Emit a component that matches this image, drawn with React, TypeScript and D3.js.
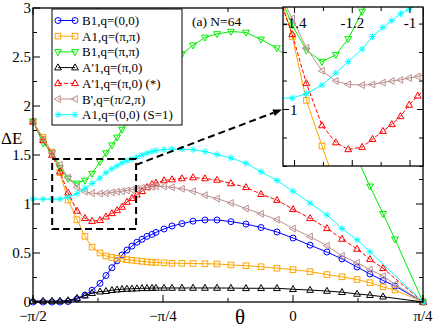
import { useEffect, useRef } from "react";
import * as d3 from "d3";

// theta grid shared by all the curves (radians)
const thetaGrid = [
  -1.5708, -1.51, -1.456, -1.408, -1.359, -1.305, -1.257, -1.214, -1.166, -1.13,
  -1.094, -1.063, -1.033, -1.003, -0.973, -0.943, -0.912, -0.882, -0.852, -0.828,
  -0.779, -0.731, -0.671, -0.604, -0.532, -0.459, -0.375, -0.284, -0.193, -0.097,
  0, 0.103, 0.205, 0.296, 0.387, 0.465, 0.544, 0.616, 0.7854,
];

const b1q00 = [
  0, 0, 0, 0, 0.005, 0.03, 0.07, 0.12, 0.19, 0.27,
  0.35, 0.42, 0.48, 0.53, 0.57, 0.61, 0.64, 0.67, 0.69, 0.71,
  0.745, 0.775, 0.8, 0.825, 0.837, 0.837, 0.82, 0.795, 0.76, 0.715,
  0.653, 0.58, 0.51, 0.44, 0.357, 0.286, 0.22, 0.163, 0,
];
const a1qpp = [
  1.84, 1.68, 1.53, 1.32, 1.04, 0.84, 0.67, 0.56, 0.5, 0.47,
  0.455, 0.445, 0.44, 0.432, 0.426, 0.42, 0.415, 0.41, 0.405, 0.403,
  0.4, 0.395, 0.395, 0.393, 0.39, 0.388, 0.378, 0.37, 0.36, 0.345,
  0.33, 0.31, 0.28, 0.257, 0.23, 0.197, 0.155, 0.122, 0,
];
const b1qpp = [
  1.84, 1.62, 1.52, 1.37, 1.26, 1.21, 1.24, 1.31, 1.43, 1.52,
  1.6, 1.68, 1.76, 1.84, 1.92, 1.99, 2.06, 2.13, 2.2, 2.25,
  2.34, 2.43, 2.53, 2.62, 2.7, 2.735, 2.76, 2.75, 2.68, 2.59,
  2.45, 2.25, 2.0, 1.75, 1.47, 1.18, 0.9, 0.64, 0,
];
const a1pq0 = [
  0.01, 0.01, 0.01, 0.01, 0.015, 0.04, 0.065, 0.09, 0.105, 0.11,
  0.12, 0.125, 0.13, 0.133, 0.135, 0.137, 0.14, 0.14, 0.142, 0.143,
  0.143, 0.143, 0.143, 0.143, 0.143, 0.143, 0.142, 0.14, 0.14, 0.14,
  0.13, 0.122, 0.112, 0.1, 0.082, 0.07, 0.054, null, 0,
];
const a1pq0star = [
  1.84, 1.65, 1.5, 1.33, 1.115, 0.93, 0.855, 0.825, 0.835, 0.87,
  0.905, 0.935, 0.97, 1.02, 1.06, 1.095, 1.13, 1.17, 1.2, 1.215,
  1.24, 1.25, 1.26, 1.27, 1.26, 1.245, 1.21, 1.17, 1.1, 1.04,
  0.946, 0.854, 0.752, 0.643, 0.541, 0.436, 0.344, null, 0,
];
const bpq2p = [
  1.84, 1.66, 1.52, 1.4, 1.27, 1.17, 1.125, 1.11, 1.107, 1.11,
  1.118, 1.125, 1.13, 1.138, 1.145, 1.155, 1.165, 1.17, 1.175, 1.18,
  1.18, 1.17, 1.155, 1.13, 1.09, 1.055, 1.01, 0.955, 0.9, 0.84,
  0.75, 0.667, 0.575, 0.47, 0.4, 0.33, 0.265, 0.18, 0,
];
const a1q00s1 = [
  1.05, 1.05, 1.05, 1.05, 1.07, 1.107, 1.16, 1.21, 1.265, 1.32,
  1.36, 1.39, 1.42, 1.44, 1.46, 1.48, 1.5, 1.52, 1.535, 1.545,
  1.555, 1.56, 1.56, 1.555, 1.535, 1.505, 1.47, 1.415, 1.33, 1.24,
  1.13, 1.01, 0.888, 0.75, 0.635, 0.513, null, null, 0,
];

const legendLabels = [
  "B1,q=(0,0)",
  "A1,q=(π,π)",
  "B1,q=(π,π)",
  "A'1,q=(π,0)",
  "A'1,q=(π,0) (*)",
  "B',q=(π/2,π)",
  "A1,q=(0,0) (S=1)",
];
const xTickLabels = ["−π/2", "−π/4", "0", "π/4"];
const yTickLabels = ["0", "0.5", "1", "1.5", "2", "2.5", "3"];
const insetXTicks = [-1.4, -1.2, -1];
const insetXTickLabels = ["-1.4", "-1.2", "-1"];

const series = [
  { label: legendLabels[0], values: b1q00, color: "#0000ff", sym: "circle", dash: null },
  { label: legendLabels[1], values: a1qpp, color: "#ffa500", sym: "square", dash: null },
  { label: legendLabels[2], values: b1qpp, color: "#00ee00", sym: "down", dash: null },
  { label: legendLabels[3], values: a1pq0, color: "#000000", sym: "up", dash: null },
  { label: legendLabels[4], values: a1pq0star, color: "#ff0000", sym: "up", dash: "4,2" },
  { label: legendLabels[5], values: bpq2p, color: "#bc8f8f", sym: "left", dash: null },
  { label: legendLabels[6], values: a1q00s1, color: "#00ffff", sym: "star", dash: null },
];

const FONT = "Liberation Serif, Times New Roman, DejaVu Serif, serif";

function addMarker(g, sym, x, y, color) {
  if (sym === "circle") {
    g.append("circle").attr("cx", x).attr("cy", y).attr("r", 3)
      .attr("fill", "none").attr("stroke", color);
  } else if (sym === "square") {
    g.append("rect").attr("x", x - 2.8).attr("y", y - 2.8).attr("width", 5.6).attr("height", 5.6)
      .attr("fill", "none").attr("stroke", color);
  } else if (sym === "star") {
    let d = "";
    for (let k = 0; k < 4; k++) {
      const a = (k * Math.PI) / 4;
      const dx = 3.3 * Math.cos(a), dy = 3.3 * Math.sin(a);
      d += `M${x - dx},${y - dy}L${x + dx},${y + dy}`;
    }
    g.append("path").attr("d", d).attr("stroke", color).attr("fill", "none");
  } else {
    let pts;
    if (sym === "up") pts = [[x, y - 3.7], [x - 3.4, y + 2.3], [x + 3.4, y + 2.3]];
    else if (sym === "down") pts = [[x, y + 3.7], [x - 3.4, y - 2.3], [x + 3.4, y - 2.3]];
    else pts = [[x - 3.7, y], [x + 2.3, y - 3.4], [x + 2.3, y + 3.4]];
    g.append("polygon").attr("points", pts.map((p) => p.join(",")).join(" "))
      .attr("fill", "none").attr("stroke", color);
  }
}

function drawSeries(g, xs, ys) {
  series.forEach((s) => {
    const pts = thetaGrid
      .map((t, i) => [t, s.values[i]])
      .filter((p) => p[1] !== null);
    const line = d3.line().x((d) => xs(d[0])).y((d) => ys(d[1]));
    g.append("path").attr("d", line(pts)).attr("fill", "none")
      .attr("stroke", s.color).attr("stroke-width", 1)
      .attr("stroke-dasharray", s.dash);
    const mg = g.append("g").attr("stroke-width", 1);
    pts.forEach((p) => addMarker(mg, s.sym, xs(p[0]), ys(p[1]), s.color));
  });
}

export default function App() {
  const ref = useRef(null);

  useEffect(() => {
    const svg = d3.select(ref.current);
    svg.selectAll("*").remove();

    const x = d3.scaleLinear().domain([-Math.PI / 2, Math.PI / 4]).range([33, 423]);
    const y = d3.scaleLinear().domain([0, 3]).range([302, 8]);

    const defs = svg.append("defs");

    // main curves
    drawSeries(svg.append("g"), x, y);

    // main frame and ticks
    const frame = svg.append("g").attr("stroke", "#000");
    frame.append("rect").attr("x", 33).attr("y", 8).attr("width", 390).attr("height", 294)
      .attr("fill", "none").attr("stroke-width", 1.3);
    const xMajor = [-Math.PI / 2, -Math.PI / 4, 0, Math.PI / 4];
    const xMinor = [-3 * Math.PI / 8, -Math.PI / 8, Math.PI / 8];
    xMajor.forEach((t) => {
      frame.append("line").attr("x1", x(t)).attr("x2", x(t)).attr("y1", 302).attr("y2", 295);
      frame.append("line").attr("x1", x(t)).attr("x2", x(t)).attr("y1", 8).attr("y2", 15);
    });
    xMinor.forEach((t) => {
      frame.append("line").attr("x1", x(t)).attr("x2", x(t)).attr("y1", 302).attr("y2", 298);
      frame.append("line").attr("x1", x(t)).attr("x2", x(t)).attr("y1", 8).attr("y2", 12);
    });
    d3.range(0, 3.01, 0.25).forEach((v, i) => {
      const len = i % 2 === 0 ? 7 : 4;
      frame.append("line").attr("x1", 33).attr("x2", 33 + len).attr("y1", y(v)).attr("y2", y(v));
      frame.append("line").attr("x1", 423).attr("x2", 423 - len).attr("y1", y(v)).attr("y2", y(v));
    });

    const labels = svg.append("g").style("font-family", FONT).attr("fill", "#000");
    xMajor.forEach((t, i) => {
      labels.append("text").attr("x", x(t)).attr("y", 321).attr("text-anchor", "middle")
        .attr("font-size", 15).text(xTickLabels[i]);
    });
    yTickLabels.forEach((lab, i) => {
      labels.append("text").attr("x", 31).attr("y", y(i * 0.5) + 5).attr("text-anchor", "end")
        .attr("font-size", 15).text(lab);
    });
    labels.append("text").attr("x", 1).attr("y", 144).attr("font-size", 17).text("ΔE");
    labels.append("text").attr("x", 240).attr("y", 324).attr("text-anchor", "middle")
      .attr("font-size", 21).text("θ");
    labels.append("text").attr("x", 192).attr("y", 26).attr("font-size", 13.5).text("(a) N=64");

    // legend
    const lg = svg.append("g");
    lg.append("rect").attr("x", 52).attr("y", 9).attr("width", 130).attr("height", 116)
      .attr("fill", "#fff").attr("stroke", "#000").attr("stroke-width", 1);
    series.forEach((s, i) => {
      const ly = 20.5 + i * 15.7;
      lg.append("line").attr("x1", 58).attr("x2", 75).attr("y1", ly).attr("y2", ly)
        .attr("stroke", s.color).attr("stroke-dasharray", s.dash);
      addMarker(lg, s.sym, 58, ly, s.color);
      addMarker(lg, s.sym, 75, ly, s.color);
      lg.append("text").attr("x", 82).attr("y", ly + 4.5).style("font-family", FONT)
        .attr("font-size", 13).text(s.label);
    });

    // zoom box in the main panel
    const bx0 = x(-1.455), bx1 = x(-0.948), by0 = y(1.46), by1 = y(0.745);
    svg.append("rect").attr("x", bx0).attr("y", by0).attr("width", bx1 - bx0).attr("height", by1 - by0)
      .attr("fill", "none").attr("stroke", "#000").attr("stroke-width", 2).attr("stroke-dasharray", "7,4");

    // inset
    const xi = d3.scaleLinear().domain([-1.44, -0.955]).range([283, 423]);
    const yi = d3.scaleLinear().domain([0.752, 1.45]).range([166, 7]);
    defs.append("clipPath").attr("id", "insetclip").append("rect")
      .attr("x", 283).attr("y", 7).attr("width", 140).attr("height", 159);
    svg.append("rect").attr("x", 283).attr("y", 7).attr("width", 140).attr("height", 159).attr("fill", "#fff");
    drawSeries(svg.append("g").attr("clip-path", "url(#insetclip)"), xi, yi);
    const ifr = svg.append("g").attr("stroke", "#000");
    ifr.append("rect").attr("x", 283).attr("y", 7).attr("width", 140).attr("height", 159)
      .attr("fill", "none").attr("stroke-width", 1.3);
    d3.range(-1.4, -0.95, 0.1).forEach((t) => {
      const major = Math.abs(Math.round(t * 10) % 2) === 0;
      const len = major ? 6 : 4;
      ifr.append("line").attr("x1", xi(t)).attr("x2", xi(t)).attr("y1", 166).attr("y2", 166 - len);
      ifr.append("line").attr("x1", xi(t)).attr("x2", xi(t)).attr("y1", 7).attr("y2", 7 + len);
    });
    d3.range(0.75, 1.46, 0.125).forEach((v) => {
      const len = Math.abs(v - 1) < 1e-6 ? 6 : 4;
      ifr.append("line").attr("x1", 283).attr("x2", 283 + len).attr("y1", yi(v)).attr("y2", yi(v));
      ifr.append("line").attr("x1", 423).attr("x2", 423 - len).attr("y1", yi(v)).attr("y2", yi(v));
    });
    insetXTicks.forEach((t, i) => {
      labels.append("text").attr("x", xi(t)).attr("y", 28).attr("text-anchor", "middle")
        .attr("font-size", 15).text(insetXTickLabels[i]);
    });
    labels.raise();
    labels.append("text").attr("x", 290).attr("y", yi(1) + 5).attr("font-size", 15).text("1");

    // arrow from box to inset
    const ax0 = x(-0.948), ay0 = y(1.4), ax1 = xi(-1.44) - 1, ay1 = yi(1);
    const dx = ax1 - ax0, dy = ay1 - ay0, L = Math.hypot(dx, dy);
    const ux = dx / L, uy = dy / L;
    const hl = 9, hw = 3.5;
    svg.append("line").attr("x1", ax0).attr("y1", ay0)
      .attr("x2", ax1 - ux * hl).attr("y2", ay1 - uy * hl)
      .attr("stroke", "#000").attr("stroke-width", 2).attr("stroke-dasharray", "7,4");
    const bxp = ax1 - ux * hl, byp = ay1 - uy * hl;
    svg.append("polygon")
      .attr("points", `${ax1},${ay1} ${bxp - uy * hw},${byp + ux * hw} ${bxp + uy * hw},${byp - ux * hw}`)
      .attr("fill", "#000");
  }, []);

  return (
    <svg ref={ref} width={436} height={328}
      style={{ position: "absolute", left: 0, top: 0, background: "#fff" }} />
  );
}
